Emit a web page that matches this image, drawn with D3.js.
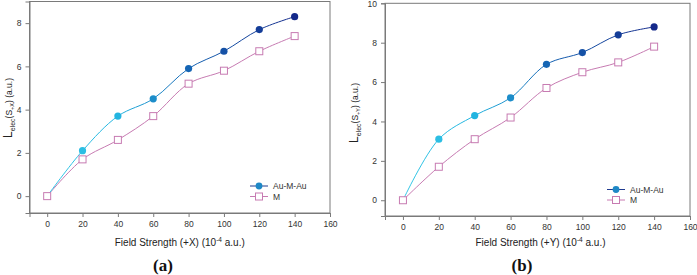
<!DOCTYPE html>
<html lang="en">
<head>
<meta charset="UTF-8"/>
<title>L_elec vs Field Strength</title>
<script src="https://d3js.org/d3.v7.min.js"></script>
<style>
  body { margin: 0; background: #fff; }
  text { font-family: "Liberation Sans", Arial, sans-serif; }
</style>
</head>
<body>
<div id="chart"></div>
<script>
    // data
    var fieldX = [0, 20, 40, 60, 80, 100, 120, 140];
    var auX = [0, 2.1, 3.7, 4.5, 5.9, 6.7, 7.7, 8.3];
    var mX = [0, 1.7, 2.6, 3.7, 5.2, 5.8, 6.7, 7.4];
    var auY = [0, 3.1, 4.3, 5.2, 6.9, 7.5, 8.4, 8.8];
    var mY = [0, 1.7, 3.1, 4.2, 5.7, 6.5, 7.0, 7.8];
    var xTicks = [0, 20, 40, 60, 80, 100, 120, 140, 160];
    var yTicksA = [0, 2, 4, 6, 8];
    var yTicksB = [0, 2, 4, 6, 8, 10];
    var seriesNames = ["Au-M-Au", "M"];

    var width = 697, height = 275;
    var svg = d3.select("#chart").append("svg").attr("width", width).attr("height", height);

    var auColor = d3.scaleLinear().domain([0, 40, 80, 140])
        .range(["#35c8e6", "#22b4e0", "#1565b4", "#14298a"]);
    var mColor = "#c77bb2";

    var defs = svg.append("defs");

    function panel(opt) {
        var x = d3.scaleLinear().domain([-10, 160]).range([opt.left, opt.right]);
        var y = d3.scaleLinear().domain(opt.yDomain).range([opt.bottom, opt.top]);
        var g = svg.append("g");

        // frame
        g.append("rect").attr("x", opt.left).attr("y", opt.top)
            .attr("width", opt.right - opt.left).attr("height", opt.bottom - opt.top)
            .attr("fill", "none").attr("stroke", "#7a7a7a").attr("stroke-width", 1);

        var xAxis = d3.axisBottom(x).tickValues(xTicks).tickSize(4).tickPadding(4);
        var yAxis = d3.axisLeft(y).tickValues(opt.yTicks).tickSize(4).tickPadding(4);
        var gx = g.append("g").attr("transform", "translate(0," + opt.bottom + ")").call(xAxis);
        var gy = g.append("g").attr("transform", "translate(" + opt.left + ",0)").call(yAxis);
        [gx, gy].forEach(function (a) {
            a.select(".domain").attr("stroke", "#7a7a7a");
            a.selectAll(".tick line").attr("stroke", "#7a7a7a");
            a.selectAll(".tick text").attr("fill", "#333").style("font-size", "8.5px")
                .style("font-family", "Liberation Sans, Arial, sans-serif");
        });

        // gradient for Au-M-Au line
        var gid = "grad" + opt.id;
        var grad = defs.append("linearGradient").attr("id", gid)
            .attr("gradientUnits", "userSpaceOnUse")
            .attr("x1", x(0)).attr("x2", x(140)).attr("y1", 0).attr("y2", 0);
        [0, 40, 80, 140].forEach(function (v) {
            grad.append("stop").attr("offset", v / 140).attr("stop-color", auColor(v));
        });

        var line = d3.line().curve(d3.curveCatmullRom.alpha(0.5))
            .x(function (d) { return x(d[0]); })
            .y(function (d) { return y(d[1]); });

        var mData = fieldX.map(function (f, i) { return [f, opt.m[i]]; });
        var auData = fieldX.map(function (f, i) { return [f, opt.au[i]]; });

        g.append("path").attr("d", line(mData)).attr("fill", "none")
            .attr("stroke", mColor).attr("stroke-width", 1);
        g.append("path").attr("d", line(auData)).attr("fill", "none")
            .attr("stroke", "url(#" + gid + ")").attr("stroke-width", 1);

        g.selectAll(".msq").data(mData).enter().append("rect")
            .attr("x", function (d) { return x(d[0]) - 3.5; })
            .attr("y", function (d) { return y(d[1]) - 3.5; })
            .attr("width", 7).attr("height", 7)
            .attr("fill", "#fff").attr("stroke", mColor).attr("stroke-width", 1);
        g.selectAll(".audot").data(auData.slice(1)).enter().append("circle")
            .attr("cx", function (d) { return x(d[0]); })
            .attr("cy", function (d) { return y(d[1]); })
            .attr("r", 3.6)
            .attr("fill", function (d) { return auColor(d[0]); });

        // legend
        var lx = opt.legX, ly = opt.legY;
        g.append("line").attr("x1", lx).attr("x2", lx + 18).attr("y1", ly).attr("y2", ly)
            .attr("stroke", "#1f3a8f").attr("stroke-width", 1);
        g.append("circle").attr("cx", lx + 9).attr("cy", ly).attr("r", 3.4).attr("fill", "#1e88c6");
        g.append("line").attr("x1", lx).attr("x2", lx + 18).attr("y1", ly + 10.5).attr("y2", ly + 10.5)
            .attr("stroke", mColor).attr("stroke-width", 1);
        g.append("rect").attr("x", lx + 5.5).attr("y", ly + 7).attr("width", 7).attr("height", 7)
            .attr("fill", "#fff").attr("stroke", mColor);
        seriesNames.forEach(function (s, i) {
            g.append("text").attr("x", lx + 23).attr("y", ly + i * 10.5 + 3)
                .style("font-size", "8.5px").attr("fill", "#333").text(s);
        });

        // x title
        var xt = g.append("text").attr("x", (opt.left + opt.right) / 2 + opt.xTitleShift)
            .attr("y", 246).attr("text-anchor", "middle")
            .style("font-size", "10px").attr("fill", "#222");
        xt.append("tspan").text("Field Strength (" + opt.dir + ") (10");
        xt.append("tspan").attr("dy", -4).style("font-size", "6.5px").text("-4");
        xt.append("tspan").attr("dy", 4).text(" a.u.)");

        // y title
        var yt = g.append("text")
            .attr("transform", "translate(" + opt.yTitleX + "," + opt.yTitleY + ") rotate(-90)")
            .attr("text-anchor", "middle").attr("fill", "#222").style("font-size", "10px");
        yt.append("tspan").style("font-size", "12px").text("L");
        yt.append("tspan").attr("dy", 3).style("font-size", "7px").text("elec");
        yt.append("tspan").attr("dy", -3).style("font-size", "8.5px").text("(S");
        yt.append("tspan").attr("dy", 2).style("font-size", "5.5px").text(opt.dir);
        yt.append("tspan").attr("dy", -2).style("font-size", "8.5px").text(") (a.u.)");

        // panel letter
        svg.append("text").attr("x", opt.letterX).attr("y", 271).attr("text-anchor", "middle")
            .style("font-family", "Liberation Serif, Times New Roman, serif")
            .style("font-weight", "bold").style("font-size", "17px").attr("fill", "#111")
            .text(opt.letter);
    }

    panel({ id: "a", left: 29.5, right: 330, top: 1.5, bottom: 213, yDomain: [-0.78, 9],
        yTicks: yTicksA, au: auX, m: mX, dir: "+X", legX: 250, legY: 186,
        xTitleShift: 0, yTitleX: 12, yTitleY: 108, letter: "(a)", letterX: 163 });
    panel({ id: "b", left: 385, right: 690, top: 3.3, bottom: 216, yDomain: [-0.8, 10],
        yTicks: yTicksB, au: auY, m: mY, dir: "+Y", legX: 607, legY: 189.5,
        xTitleShift: 3, yTitleX: 358, yTitleY: 113, letter: "(b)", letterX: 522 });
</script>
</body>
</html>
